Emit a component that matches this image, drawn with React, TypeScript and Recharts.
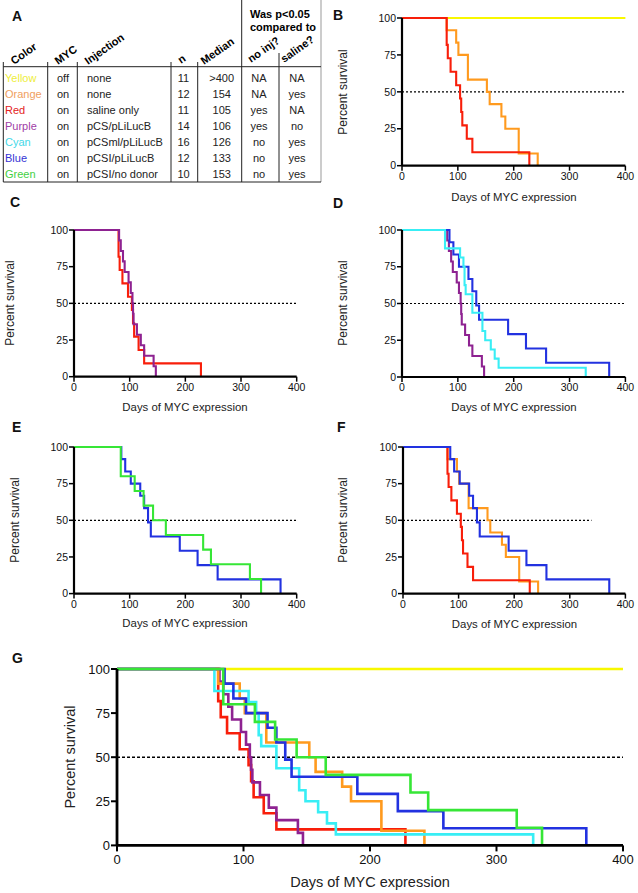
import React from 'react';
import { LineChart, Line, XAxis, YAxis, ReferenceLine } from 'recharts';

const FONT = '"Liberation Sans", Arial, Helvetica, sans-serif';

// Kaplan-Meier steps: day of each drop, and % surviving after that drop
const yellowDays = [0, 400];
const yellowSurv = [100, 100];
const orangeDays = [0, 80, 97, 101, 118, 152, 157, 178, 185, 209, 243];
const orangeSurv = [100, 91.7, 83.3, 75, 58.3, 50, 41.7, 33.3, 25, 8.3, 0];
const redDays = [0, 80, 82, 87, 97, 104, 106, 108, 116, 126, 228];
const redSurv = [100, 81.8, 72.7, 63.6, 54.5, 45.5, 36.4, 27.3, 18.2, 9.1, 0];
const purpleDays = [0, 81, 84, 88, 91, 98, 102, 105, 106, 107, 113, 120, 126, 143, 147];
const purpleSurv = [100, 92.9, 85.7, 78.6, 71.4, 64.3, 57.1, 50, 42.9, 35.7, 28.6, 21.4, 14.3, 7.1, 0];
const cyanDays = [0, 77, 104, 110, 112, 114, 126, 144, 149, 159, 166, 173, 329];
const cyanSurv = [100, 87.5, 81.25, 75, 62.5, 56.25, 43.75, 31.25, 25, 18.75, 12.5, 6.25, 0];
const blueDays = [0, 85, 92, 102, 119, 126, 133, 138, 190, 222, 258, 371];
const blueSurv = [100, 91.7, 83.3, 75, 66.7, 58.3, 48.6, 38.9, 29.2, 19.4, 9.7, 0];
const greenDays = [0, 84, 109, 125, 142, 165, 232, 246, 316, 336];
const greenSurv = [100, 80, 70, 60, 50, 40, 30, 20, 10, 0];

const xTicks = [0, 100, 200, 300, 400];
const yTicks = [0, 25, 50, 75, 100];

// table (panel A)
const colorNames = ['Yellow', 'Orange', 'Red', 'Purple', 'Cyan', 'Blue', 'Green'];
const mycStatus = ['off', 'on', 'on', 'on', 'on', 'on', 'on'];
const injections = ['none', 'none', 'saline only', 'pCS/pLiLucB', 'pCSml/pLiLucB', 'pCSI/pLiLucB', 'pCSI/no donor'];
const nValues = ['11', '12', '11', '14', '16', '12', '10'];
const medians = ['>400', '154', '105', '106', '126', '133', '153'];
const vsNoInj = ['NA', 'NA', 'yes', 'yes', 'no', 'no', 'no'];
const vsSaline = ['NA', 'yes', 'NA', 'no', 'yes', 'yes', 'yes'];

const COLORS: Record<string, string> = {
  yellow: '#f8f800',
  orange: '#ff9a1e',
  red: '#f81e0a',
  purple: '#8e2291',
  cyan: '#38eef5',
  blue: '#2232e0',
  green: '#36e636',
};
const textColors = ['#eeee3a', '#f0a060', '#e42222', '#a040a6', '#44d8e8', '#3434d4', '#44d044'];

const toPoints = (days: number[], surv: number[]) => days.map((d, i) => ({ day: d, surv: surv[i] }));

const series: Record<string, { day: number; surv: number }[]> = {
  yellow: toPoints(yellowDays, yellowSurv),
  orange: toPoints(orangeDays, orangeSurv),
  red: toPoints(redDays, redSurv),
  purple: toPoints(purpleDays, purpleSurv),
  cyan: toPoints(cyanDays, cyanSurv),
  blue: toPoints(blueDays, blueSurv),
  green: toPoints(greenDays, greenSurv),
};

interface PanelProps {
  x0: number;
  x1: number;
  yT: number;
  yB: number;
  groups: string[];
  refEnd?: number;
  big?: boolean;
}

function KMPanel({ x0, x1, yT, yB, groups, refEnd = 400, big = false }: PanelProps) {
  const yw = big ? 46 : 38;
  const xh = big ? 26 : 22;
  const mt = 8;
  const mr = 14;
  const w = yw + (x1 - x0) + mr;
  const h = mt + (yB - yT) + xh;
  const fs = big ? 13 : 10.5;
  const axisW = big ? 2.8 : 2.2;
  return (
    <div style={{ position: 'absolute', left: x0 - yw, top: yT - mt }}>
      <LineChart width={w} height={h} margin={{ top: mt, right: mr, left: 0, bottom: 0 }}>
        <XAxis
          type="number"
          dataKey="day"
          domain={[0, 400]}
          ticks={xTicks}
          height={xh}
          tickSize={big ? 6 : 5}
          tickMargin={big ? 3 : 2}
          axisLine={{ stroke: '#000', strokeWidth: axisW }}
          tickLine={{ stroke: '#000', strokeWidth: big ? 2 : 1.5 }}
          tick={{ fill: '#111', fontSize: fs, fontFamily: FONT }}
        />
        <YAxis
          type="number"
          domain={[0, 100]}
          ticks={yTicks}
          width={yw}
          tickSize={big ? 6 : 5}
          tickMargin={1}
          axisLine={{ stroke: '#000', strokeWidth: axisW }}
          tickLine={{ stroke: '#000', strokeWidth: big ? 2 : 1.5 }}
          tick={{ fill: '#111', fontSize: fs, fontFamily: FONT }}
        />
        <ReferenceLine
          segment={[{ x: 0, y: 50 }, { x: refEnd, y: 50 }]}
          stroke="#000"
          strokeWidth={big ? 1.4 : 1.2}
          strokeDasharray={big ? '3 2' : '2 2'}
        />
        {groups.map(g => (
          <Line
            key={g}
            data={series[g]}
            dataKey="surv"
            type="stepAfter"
            stroke={COLORS[g]}
            strokeWidth={big ? 2.6 : 2.1}
            dot={false}
            activeDot={false}
            isAnimationActive={false}
          />
        ))}
      </LineChart>
    </div>
  );
}

const panels = [
  { id: 'B', x0: 402.3, x1: 625.7, yT: 18.3, yB: 166, groups: ['yellow', 'orange', 'red'] },
  { id: 'C', x0: 74, x1: 296.7, yT: 230, yB: 376.7, groups: ['red', 'purple'] },
  { id: 'D', x0: 402.3, x1: 625.7, yT: 229.7, yB: 376.7, groups: ['purple', 'blue', 'cyan'] },
  { id: 'E', x0: 74, x1: 296.7, yT: 446.7, yB: 593.3, groups: ['blue', 'green'] },
  { id: 'F', x0: 403.3, x1: 625.7, yT: 446.7, yB: 593.3, groups: ['orange', 'red', 'blue'], refEnd: 339 },
  { id: 'G', x0: 117.3, x1: 623.3, yT: 668.6, yB: 845, groups: ['yellow', 'red', 'purple', 'orange', 'cyan', 'blue', 'green'], big: true },
];

// letters and axis titles
const letters = [
  { t: 'A', x: 12, y: 21 },
  { t: 'B', x: 333, y: 20 },
  { t: 'C', x: 10, y: 207 },
  { t: 'D', x: 333, y: 208 },
  { t: 'E', x: 12, y: 432 },
  { t: 'F', x: 337, y: 432 },
  { t: 'G', x: 12, y: 663 },
];
const yTitles = [
  { x: 343.3, y: 92, fs: 12 },
  { x: 10, y: 303, fs: 12 },
  { x: 343.3, y: 303, fs: 12 },
  { x: 15, y: 520, fs: 12 },
  { x: 343.3, y: 520, fs: 12 },
  { x: 70, y: 757, fs: 14.5 },
];
const xTitles = [
  { x: 514, y: 197, fs: 11.4 },
  { x: 185, y: 406.7, fs: 11.4 },
  { x: 514, y: 407.3, fs: 11.4 },
  { x: 185, y: 623.3, fs: 11.4 },
  { x: 514.5, y: 624, fs: 11.4 },
  { x: 370, y: 881.7, fs: 14.5 },
];

const rowY = [78, 94, 110, 126, 142, 158, 174];
const vLines = [
  { x: 3.3, y1: 62 },
  { x: 47.7, y1: 62 },
  { x: 77.3, y1: 62 },
  { x: 171, y1: 62 },
  { x: 197.7, y1: 62 },
  { x: 241.7, y1: 0 },
  { x: 279, y1: 53 },
  { x: 321, y1: 0 },
];
const headers = [
  { t: 'Color', x: 14, y: 65 },
  { t: 'MYC', x: 58, y: 65 },
  { t: 'Injection', x: 88, y: 65 },
  { t: 'n', x: 181, y: 64 },
  { t: 'Median', x: 204, y: 65 },
  { t: 'no inj?', x: 251, y: 63 },
  { t: 'saline?', x: 284, y: 63 },
];

function Table() {
  const fs = 11;
  return (
    <g fontFamily={FONT} fontSize={fs}>
      {vLines.map((l, i) => (
        <line key={i} x1={l.x} x2={l.x} y1={l.y1} y2={182} stroke={i === 7 ? '#999' : '#222'} strokeWidth={1} />
      ))}
      <line x1={3.3} x2={321} y1={66.7} y2={66.7} stroke="#222" strokeWidth={1} />
      <line x1={3.3} x2={321} y1={182} y2={182} stroke="#222" strokeWidth={1} />
      <text x={250} y={18} fontWeight="bold">Was p&lt;0.05</text>
      <text x={250} y={31} fontWeight="bold">compared to</text>
      {headers.map(h => (
        <text key={h.t} x={h.x} y={h.y} fontWeight="bold" transform={`rotate(-35 ${h.x} ${h.y})`}>
          {h.t}
        </text>
      ))}
      {rowY.map((cy, i) => {
        const by = cy + 4;
        return (
          <g key={i} fill="#222">
            <text x={5} y={by} fill={textColors[i]}>{colorNames[i]}</text>
            <text x={57} y={by}>{mycStatus[i]}</text>
            <text x={87} y={by}>{injections[i]}</text>
            <text x={183.5} y={by} textAnchor="middle">{nValues[i]}</text>
            <text x={221.7} y={by} textAnchor="middle">{medians[i]}</text>
            <text x={259} y={by} textAnchor="middle">{vsNoInj[i]}</text>
            <text x={297} y={by} textAnchor="middle">{vsSaline[i]}</text>
          </g>
        );
      })}
    </g>
  );
}

export default function App() {
  return (
    <div style={{ position: 'absolute', left: 0, top: 0, width: 638, height: 893, background: '#fff', overflow: 'hidden' }}>
      <svg width={638} height={893} style={{ position: 'absolute', left: 0, top: 0 }}>
        <Table />
        {letters.map(l => (
          <text key={l.t} x={l.x} y={l.y} fontFamily={FONT} fontSize={14} fontWeight="bold" fill="#111">
            {l.t}
          </text>
        ))}
        {yTitles.map((t, i) => (
          <text
            key={i}
            transform={`translate(${t.x} ${t.y}) rotate(-90)`}
            textAnchor="middle"
            dominantBaseline="central"
            fontFamily={FONT}
            fontSize={t.fs}
            fill="#222"
          >
            Percent survival
          </text>
        ))}
        {xTitles.map((t, i) => (
          <text
            key={i}
            x={t.x}
            y={t.y}
            textAnchor="middle"
            dominantBaseline="central"
            fontFamily={FONT}
            fontSize={t.fs}
            fill="#222"
          >
            Days of MYC expression
          </text>
        ))}
      </svg>
      {panels.map(p => (
        <KMPanel key={p.id} x0={p.x0} x1={p.x1} yT={p.yT} yB={p.yB} groups={p.groups} refEnd={p.refEnd} big={p.big} />
      ))}
    </div>
  );
}
